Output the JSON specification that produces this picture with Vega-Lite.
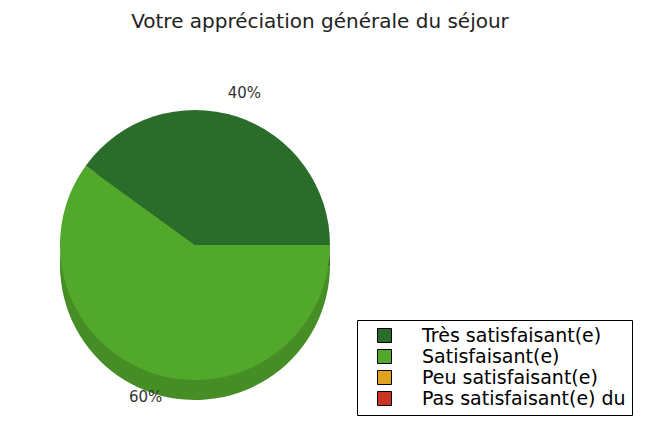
{
  "$schema": "https://vega.github.io/schema/vega-lite/v6.json",
  "width": 390,
  "height": 390,
  "autosize": "none",
  "padding": {"top": 50, "left": 0, "right": 263, "bottom": 0},
  "background": "white",
  "title": {
    "text": "Votre appréciation générale du séjour",
    "font": "DejaVu Sans",
    "fontSize": 20,
    "fontWeight": "normal",
    "color": "#222222",
    "dx": 125,
    "offset": 18
  },
  "config": {"view": {"stroke": null}},
  "data": {
    "values": [
      {"cat": "Satisfaisant(e)", "pct": 60, "ord": 1, "label": "60%"},
      {"cat": "Très satisfaisant(e)", "pct": 40, "ord": 2, "label": "40%"},
      {"cat": "Peu satisfaisant(e)", "pct": 0, "ord": 3, "label": "0%"},
      {"cat": "Pas satisfaisant(e) du", "pct": 0, "ord": 4, "label": "0%"}
    ]
  },
  "encoding": {
    "theta": {"field": "pct", "type": "quantitative", "stack": true, "scale": {"range": [1.5708, 7.854]}},
    "order": {"field": "ord", "type": "quantitative"}
  },
  "layer": [
    {
      "mark": {"type": "arc", "outerRadius": 135, "yOffset": 20},
      "encoding": {
        "fill": {
          "condition": {"test": "datum.cat === 'Satisfaisant(e)'", "value": "#478d25"},
          "value": "#22581f"
        }
      }
    },
    {
      "mark": {"type": "arc", "outerRadius": 135},
      "encoding": {
        "color": {
          "field": "cat",
          "type": "nominal",
          "scale": {
            "domain": ["Très satisfaisant(e)", "Satisfaisant(e)", "Peu satisfaisant(e)", "Pas satisfaisant(e) du"],
            "range": ["#2a6c2a", "#52a82b", "#e0a020", "#cc3322"]
          },
          "legend": {
            "orient": "none",
            "legendX": 357,
            "legendY": 270,
            "title": null,
            "symbolType": "square",
            "symbolSize": 196,
            "symbolStrokeColor": "#000000",
            "symbolStrokeWidth": 1,
            "symbolOpacity": 1,
            "labelFont": "DejaVu Sans",
            "labelFontSize": 19,
            "labelColor": "#000000",
            "labelLimit": 400,
            "strokeColor": "#000000",
            "fillColor": "white",
            "padding": 6,
            "rowPadding": 1,
            "symbolOffset": 12,
            "labelOffset": 28
          }
        }
      }
    },
    {
      "transform": [{"filter": "datum.pct > 0"}],
      "mark": {"type": "text", "radius": 160, "font": "DejaVu Sans", "fontSize": 15, "color": "#333333"},
      "encoding": {"text": {"field": "label", "type": "nominal"}}
    }
  ]
}
